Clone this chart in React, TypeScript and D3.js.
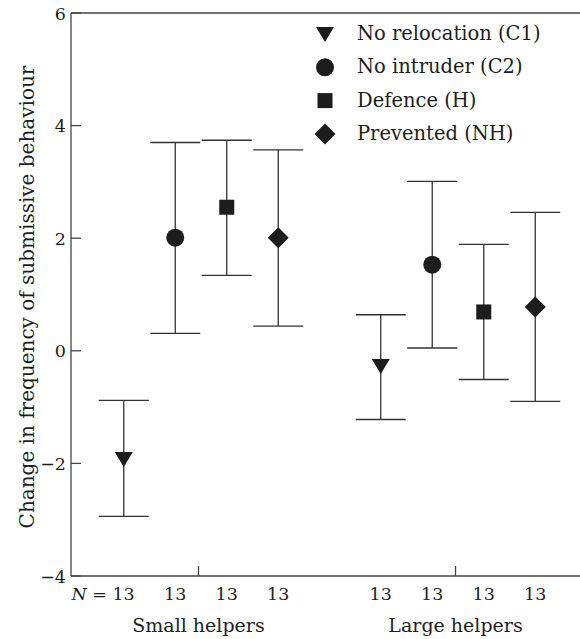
import React from "react";
import * as d3 from "d3";

const groups = ["Small helpers", "Large helpers"];
const treatments = ["No relocation (C1)", "No intruder (C2)", "Defence (H)", "Prevented (NH)"];
const symbols = ["triangle", "circle", "square", "diamond"];
const means = [
  [-1.92, 2.01, 2.55, 2.01],
  [-0.27, 1.53, 0.69, 0.78],
];
const upper = [
  [-0.88, 3.7, 3.74, 3.57],
  [0.64, 3.01, 1.89, 2.46],
];
const lower = [
  [-2.94, 0.31, 1.34, 0.44],
  [-1.22, 0.05, -0.51, -0.9],
];
const nValues = [
  [13, 13, 13, 13],
  [13, 13, 13, 13],
];
const yTicks = [-4, -2, 0, 2, 4, 6];

const W = 580;
const H = 639;
const left = 71;
const top = 13;
const bottom = 576;
const font = "'DejaVu Serif', 'Liberation Serif', serif";
const ink = "#1d1d1d";

function Marker({ type, x, y }: { type: string; x: number; y: number }) {
  if (type === "circle") return <circle cx={x} cy={y} r={9} fill={ink} />;
  if (type === "square") return <rect x={x - 7.5} y={y - 7.5} width={15} height={15} fill={ink} />;
  if (type === "diamond")
    return <path d={`M${x},${y - 10.5}L${x + 10.5},${y}L${x},${y + 10.5}L${x - 10.5},${y}Z`} fill={ink} />;
  return <path d={`M${x - 9},${y - 7}L${x + 9},${y - 7}L${x},${y + 8}Z`} fill={ink} />;
}

export default function App() {
  const y = d3.scaleLinear().domain([-4, 6]).range([bottom, top]);
  const xg = d3.scaleBand().domain(groups).range([71, 585]).paddingInner(0).paddingOuter(0);
  const xt = d3.scaleBand().domain(treatments).range([0, 206]).padding(0);
  const px = (g: number, t: number) =>
    (xg(groups[g]) as number) + 27 + (xt(treatments[t]) as number) + xt.bandwidth() / 2;
  const gc = (g: number) => (xg(groups[g]) as number) + xg.bandwidth() / 2 - 1;

  return (
    <svg width={W} height={H} style={{ position: "absolute", left: 0, top: 0, background: "#fff" }}>
      <rect width={W} height={H} fill="#fff" />
      <line x1={left} x2={W} y1={top} y2={top} stroke="#444" strokeWidth={1.3} />
      <line x1={left} x2={W} y1={bottom} y2={bottom} stroke="#444" strokeWidth={1.3} />
      <line x1={left} x2={left} y1={top} y2={bottom} stroke="#444" strokeWidth={1.3} />
      {yTicks.map((t) => (
        <g key={t}>
          <line x1={left} x2={left + 10} y1={y(t)} y2={y(t)} stroke="#444" strokeWidth={1.3} />
          <text x={left - 5} y={y(t) + 6.5} textAnchor="end" fontFamily={font} fontSize={17.5} fill={ink}>
            {t < 0 ? "\u2212" + Math.abs(t) : t}
          </text>
        </g>
      ))}
      {groups.map((g, gi) => (
        <g key={g}>
          <line x1={gc(gi)} x2={gc(gi)} y1={bottom} y2={bottom - 10} stroke="#444" strokeWidth={1.3} />
          <text x={gc(gi)} y={632} textAnchor="middle" fontFamily={font} fontSize={19} fill={ink}>
            {g}
          </text>
        </g>
      ))}
      {groups.map((g, gi) =>
        treatments.map((t, ti) => {
          const x = px(gi, ti);
          return (
            <g key={g + t}>
              <line x1={x} x2={x} y1={y(upper[gi][ti])} y2={y(lower[gi][ti])} stroke="#333" strokeWidth={1.3} />
              <line x1={x - 25} x2={x + 25} y1={y(upper[gi][ti])} y2={y(upper[gi][ti])} stroke="#333" strokeWidth={1.3} />
              <line x1={x - 25} x2={x + 25} y1={y(lower[gi][ti])} y2={y(lower[gi][ti])} stroke="#333" strokeWidth={1.3} />
              <Marker type={symbols[ti]} x={x} y={y(means[gi][ti])} />
              {gi === 0 && ti === 0 ? (
                <text x={x + 11} y={600} textAnchor="end" fontFamily={font} fontSize={17.5} fill={ink}>
                  <tspan fontStyle="italic">N</tspan>
                  {" = " + nValues[gi][ti]}
                </text>
              ) : (
                <text x={x} y={600} textAnchor="middle" fontFamily={font} fontSize={17.5} fill={ink}>
                  {nValues[gi][ti]}
                </text>
              )}
            </g>
          );
        })
      )}
      {treatments.map((t, i) => (
        <g key={t}>
          <Marker type={symbols[i]} x={325} y={34 + i * 33.3} />
          <text x={357} y={40 + i * 33.3} fontFamily={font} fontSize={19.5} fill={ink}>
            {t}
          </text>
        </g>
      ))}
      <text
        transform={`translate(34,297) rotate(-90)`}
        textAnchor="middle"
        fontFamily={font}
        fontSize={20}
        fill={ink}
      >
        Change in frequency of submissive behaviour
      </text>
    </svg>
  );
}
